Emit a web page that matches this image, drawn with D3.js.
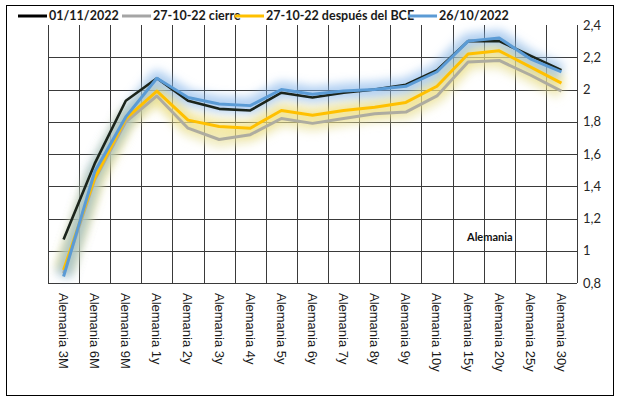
<!DOCTYPE html>
<html lang="es">
<head>
<meta charset="UTF-8">
<script src="https://d3js.org/d3.v7.min.js"></script>
<style>
  body { margin: 0; background: #fff; }
  svg { display: block; }
  .legend text { font: bold 12.5px Lato, "Open Sans", sans-serif; fill: #1a1a1a; }
  .yaxis text { font: 13px Lato, "Open Sans", sans-serif; fill: #262626; }
  .xaxis text { font: 13px "Liberation Sans", Arial, sans-serif; fill: #1a1a1a; }
</style>
</head>
<body>
<svg id="chart" width="622" height="400"></svg>
<script>
// categories (tenors)
const categories = ['Alemania 3M', 'Alemania 6M', 'Alemania 9M', 'Alemania 1y', 'Alemania 2y', 'Alemania 3y',
  'Alemania 4y', 'Alemania 5y', 'Alemania 6y', 'Alemania 7y', 'Alemania 8y', 'Alemania 9y',
  'Alemania 10y', 'Alemania 15y', 'Alemania 20y', 'Alemania 25y', 'Alemania 30y'];

// series values (yield, %)
const serie01Nov = [1.07, 1.54, 1.93, 2.07, 1.93, 1.88, 1.87, 1.98, 1.95, 1.98, 2.00, 2.03, 2.12, 2.30, 2.30, 2.21, 2.12];
const serieCierre = [0.86, 1.44, 1.80, 1.96, 1.76, 1.69, 1.72, 1.82, 1.79, 1.82, 1.85, 1.86, 1.96, 2.17, 2.18, 2.09, 1.99];
const serieBCE = [0.88, 1.45, 1.82, 1.99, 1.81, 1.77, 1.76, 1.87, 1.84, 1.87, 1.89, 1.92, 2.02, 2.22, 2.24, 2.14, 2.04];
const serie26Oct = [0.84, 1.49, 1.83, 2.07, 1.95, 1.91, 1.90, 2.00, 1.97, 1.99, 2.00, 2.02, 2.11, 2.30, 2.32, 2.19, 2.11];

// y ticks
const yTicks = [0.8, 1, 1.2, 1.4, 1.6, 1.8, 2, 2.2, 2.4];

const series = [
  { name: '01/11/2022', values: serie01Nov, color: '#1b241b', key: '#000', width: 2.6, glow: null },
  { name: '27-10-22 cierre', values: serieCierre, color: '#aeaca0', key: '#a5a5a5', width: 3, glow: '#e6e09a' },
  { name: '27-10-22 después del BCE', values: serieBCE, color: '#ffc000', key: '#ffc000', width: 3, glow: '#f1de70' },
  { name: '26/10/2022', values: serie26Oct, color: '#5b9bd5', key: '#5b9bd5', width: 3, glow: '#7fb0ea' }
];

const svg = d3.select('#chart');
const plot = { left: 48, right: 577, top: 25, bottom: 283 };

// outer frame
svg.append('rect').attr('x', 6.5).attr('y', 5.5).attr('width', 607).attr('height', 390)
  .attr('fill', 'none').attr('stroke', '#000').attr('stroke-width', 1);

const defs = svg.append('defs');
defs.append('filter').attr('id', 'glow')
  .attr('x', '-20%').attr('y', '-50%').attr('width', '140%').attr('height', '200%')
  .append('feGaussianBlur').attr('stdDeviation', 5);

const x = d3.scaleBand().domain(categories).range([plot.left, plot.right]);
const y = d3.scaleLinear().domain([0.8, 2.4]).range([plot.bottom, plot.top]);

// grid
const grid = svg.append('g').attr('stroke', '#3a3a3a').attr('stroke-width', 1).attr('shape-rendering', 'crispEdges');
grid.selectAll('.h').data(yTicks.slice(0, -1)).enter().append('line')
  .attr('x1', plot.left).attr('x2', plot.right)
  .attr('y1', d => Math.round(y(d)) + 0.5).attr('y2', d => Math.round(y(d)) + 0.5);
const bounds = categories.map(c => x(c)).concat([plot.right]);
grid.selectAll('.v').data(bounds).enter().append('line')
  .attr('x1', d => Math.round(d) + 0.5).attr('x2', d => Math.round(d) + 0.5)
  .attr('y1', plot.top).attr('y2', plot.bottom);

// right axis
const yAxis = svg.append('g').attr('class', 'yaxis')
  .attr('transform', `translate(${plot.right},0)`)
  .call(d3.axisRight(y).tickValues(yTicks).tickSize(0).tickPadding(6)
    .tickFormat(d => String(+d.toFixed(1)).replace('.', ',')));
yAxis.select('.domain').remove();

// bottom axis labels
const xAxis = svg.append('g').attr('class', 'xaxis')
  .attr('transform', `translate(0,${plot.bottom})`)
  .call(d3.axisBottom(x).tickSize(0));
xAxis.select('.domain').remove();
xAxis.selectAll('text')
  .attr('transform', 'rotate(90)')
  .attr('x', 10).attr('y', 0).attr('dy', '0.35em')
  .style('text-anchor', 'start');

const line = d3.line()
  .x((d, i) => x(categories[i]) + x.bandwidth() / 2)
  .y(d => y(d));

// glows first
series.forEach(s => {
  if (!s.glow) return;
  svg.append('path').datum(s.values)
    .attr('d', line).attr('fill', 'none')
    .attr('stroke', s.glow).attr('stroke-width', 16).attr('stroke-opacity', 0.6)
    .attr('stroke-linejoin', 'round').attr('filter', 'url(#glow)');
});

series.forEach(s => {
  svg.append('path').datum(s.values)
    .attr('d', line).attr('fill', 'none')
    .attr('stroke', s.color).attr('stroke-width', s.width)
    .attr('stroke-linejoin', 'round');
});

// legend
const legendPos = [18, 122, 235, 408];
const legend = svg.append('g').attr('class', 'legend');
series.forEach((s, i) => {
  const g = legend.append('g').attr('transform', `translate(${legendPos[i]},16)`);
  g.append('line').attr('x1', 0).attr('x2', 29).attr('stroke', s.key).attr('stroke-width', 3);
  g.append('text').attr('x', 31).attr('dy', '0.35em').text(s.name);
});

// annotation
svg.append('text').attr('x', 467).attr('y', 241)
  .style('font', 'bold 11px Lato, "Open Sans", sans-serif').attr('fill', '#111')
  .text('Alemania');
</script>
</body>
</html>
